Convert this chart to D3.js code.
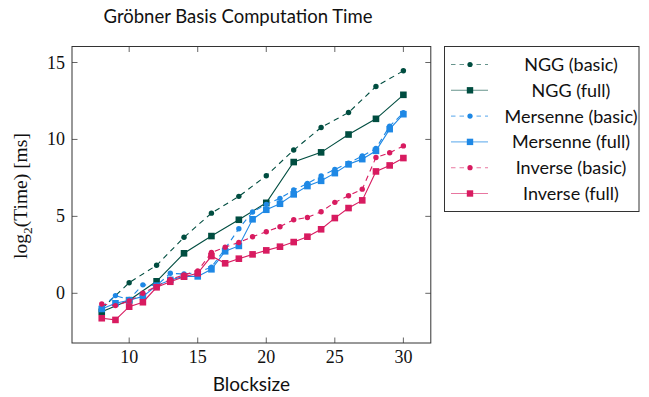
<!DOCTYPE html>
<html><head><meta charset="utf-8">
<script src="https://cdn.jsdelivr.net/npm/d3@7"></script>
<style>body{margin:0;background:#fff}</style>
</head><body><svg id="c" width="649" height="397"></svg>
<script>
const title = "Gröbner Basis Computation Time";
const blocksizes = [8,9,10,11,12,13,14,15,16,17,18,19,20,21,22,23,24,25,26,27,28,29,30];
const nggBlocksizes = [8,10,12,14,16,18,20,22,24,26,28,30];
const nggBasic = [-1.0,0.69,1.82,3.64,5.21,6.30,7.64,9.31,10.78,11.75,13.44,14.46];
const nggFull = [-1.2,-0.45,0.78,2.6,3.72,4.78,5.88,8.53,9.16,10.32,11.34,12.90];
const mersenneBasic = [-0.9,-0.15,-0.4,0.55,0.5,1.3,1.25,1.35,1.7,2.9,4.2,5.28,5.78,6.17,6.71,7.14,7.62,8.05,8.46,8.92,9.42,10.86,11.73];
const mersenneFull = [-1.02,-0.65,-0.45,-0.2,0.5,0.87,1.1,1.1,1.56,2.73,3.08,4.81,5.43,5.82,6.43,6.97,7.31,7.81,8.38,8.72,9.26,10.67,11.64];
const inverseBasic = [-0.7,-0.8,-0.5,0.0,0.45,0.9,1.2,1.45,2.65,3.0,3.3,3.68,4.0,4.33,4.78,4.93,5.3,5.91,6.34,6.77,8.83,9.13,9.58];
const inverseFull = [-1.62,-1.73,-0.87,-0.58,0.39,0.75,1.08,1.3,2.42,1.95,2.25,2.53,2.79,3.03,3.33,3.68,4.16,4.89,5.54,6.04,7.92,8.31,8.79];
const xTicks = [10,15,20,25,30];
const yTicks = [0,5,10,15];
const seriesNames = ["NGG (basic)","NGG (full)","Mersenne (basic)","Mersenne (full)","Inverse (basic)","Inverse (full)"];
const colors = ["#004D40","#004D40","#1E88E5","#1E88E5","#D81B60","#D81B60"];

const series = [
  {name: seriesNames[0], xs: nggBlocksizes, ys: nggBasic, color: colors[0], basic: true},
  {name: seriesNames[1], xs: nggBlocksizes, ys: nggFull, color: colors[1], basic: false},
  {name: seriesNames[2], xs: blocksizes, ys: mersenneBasic, color: colors[2], basic: true},
  {name: seriesNames[3], xs: blocksizes, ys: mersenneFull, color: colors[3], basic: false},
  {name: seriesNames[4], xs: blocksizes, ys: inverseBasic, color: colors[4], basic: true},
  {name: seriesNames[5], xs: blocksizes, ys: inverseFull, color: colors[5], basic: false}
];

const svg = d3.select("#c");
const L = 72, R = 430.8, T = 46.5, B = 343;
const x = d3.scaleLinear().domain([5.83, 32.0]).range([L, R]);
const y = d3.scaleLinear().domain([-3.23, 16.04]).range([B, T]);

const sans = "Lato, 'Open Sans', sans-serif";
const serif = "'Liberation Serif', 'DejaVu Serif', serif";

svg.append("text").attr("x", 238).attr("y", 23).attr("text-anchor","middle")
  .attr("font-family", sans).attr("font-size", 18.5).attr("fill","#111").text(title);

// ticks (inward on all sides)
const tk = 5.5;
const g = svg.append("g").attr("stroke","#666").attr("stroke-width",1);
xTicks.forEach(v => {
  g.append("line").attr("x1",x(v)).attr("x2",x(v)).attr("y1",B).attr("y2",B-tk);
  g.append("line").attr("x1",x(v)).attr("x2",x(v)).attr("y1",T).attr("y2",T+tk);
});
yTicks.forEach(v => {
  g.append("line").attr("y1",y(v)).attr("y2",y(v)).attr("x1",L).attr("x2",L+tk);
  g.append("line").attr("y1",y(v)).attr("y2",y(v)).attr("x1",R).attr("x2",R-tk);
});

// tick labels
svg.append("g").selectAll("text").data(xTicks).join("text")
  .attr("x", d => x(d)).attr("y", B+20).attr("text-anchor","middle")
  .attr("font-family", serif).attr("font-size", 18).attr("fill","#111").text(d => d);
svg.append("g").selectAll("text").data(yTicks).join("text")
  .attr("x", L-7).attr("y", d => y(d)+6).attr("text-anchor","end")
  .attr("font-family", serif).attr("font-size", 18).attr("fill","#111").text(d => d);

// axis labels
svg.append("text").attr("x",(L+R)/2).attr("y",391).attr("text-anchor","middle")
  .attr("font-family", sans).attr("font-size", 19).attr("fill","#111").text("Blocksize");
const yl = svg.append("text").attr("transform","translate(27,196) rotate(-90)").attr("text-anchor","middle")
  .attr("font-family", serif).attr("font-size", 19.5).attr("fill","#111");
yl.append("tspan").text("log");
yl.append("tspan").attr("font-size",13.5).attr("dy",4.5).text("2");
yl.append("tspan").attr("dy",-4.5).text("(Time) [ms]");

// lines
const line = d3.line().x(d => x(d[0])).y(d => y(d[1]));
const plot = svg.append("g");
series.forEach(s => {
  const pts = s.xs.map((v,i) => [v, s.ys[i]]);
  plot.append("path").datum(pts).attr("d", line).attr("fill","none")
    .attr("stroke", s.color).attr("stroke-width", 1.1)
    .attr("stroke-dasharray", s.basic ? "5.5,4.5" : null);
  if (s.basic) {
    plot.append("g").selectAll("circle").data(pts).join("circle")
      .attr("cx", d => x(d[0])).attr("cy", d => y(d[1])).attr("r", 2.7).attr("fill", s.color);
  } else {
    plot.append("g").selectAll("rect").data(pts).join("rect")
      .attr("x", d => x(d[0])-3.3).attr("y", d => y(d[1])-3.3).attr("width",6.6).attr("height",6.6).attr("fill", s.color);
  }
});

// frame
svg.append("rect").attr("x",L).attr("y",T).attr("width",R-L).attr("height",B-T)
  .attr("fill","none").attr("stroke","#333").attr("stroke-width",1);

// legend
const lg = svg.append("g");
lg.append("rect").attr("x",444.5).attr("y",46.5).attr("width",194.5).attr("height",165)
  .attr("fill","#fff").attr("stroke","#333").attr("stroke-width",1);
series.forEach((s,i) => {
  const yy = 64.5 + i*25.8;
  lg.append("line").attr("x1",451).attr("x2",488).attr("y1",yy).attr("y2",yy)
    .attr("stroke", s.color).attr("stroke-opacity",0.6).attr("stroke-width",1.1)
    .attr("stroke-dasharray", s.basic ? "4.5,4" : null);
  if (s.basic) lg.append("circle").attr("cx",470).attr("cy",yy).attr("r",2.6).attr("fill",s.color);
  else lg.append("rect").attr("x",470-3.2).attr("y",yy-3.2).attr("width",6.4).attr("height",6.4).attr("fill",s.color);
  lg.append("text").attr("x",571).attr("y",yy+6.5).attr("text-anchor","middle")
    .attr("font-family", sans).attr("font-size",18).attr("fill","#111").text(s.name);
});
</script></body></html>
